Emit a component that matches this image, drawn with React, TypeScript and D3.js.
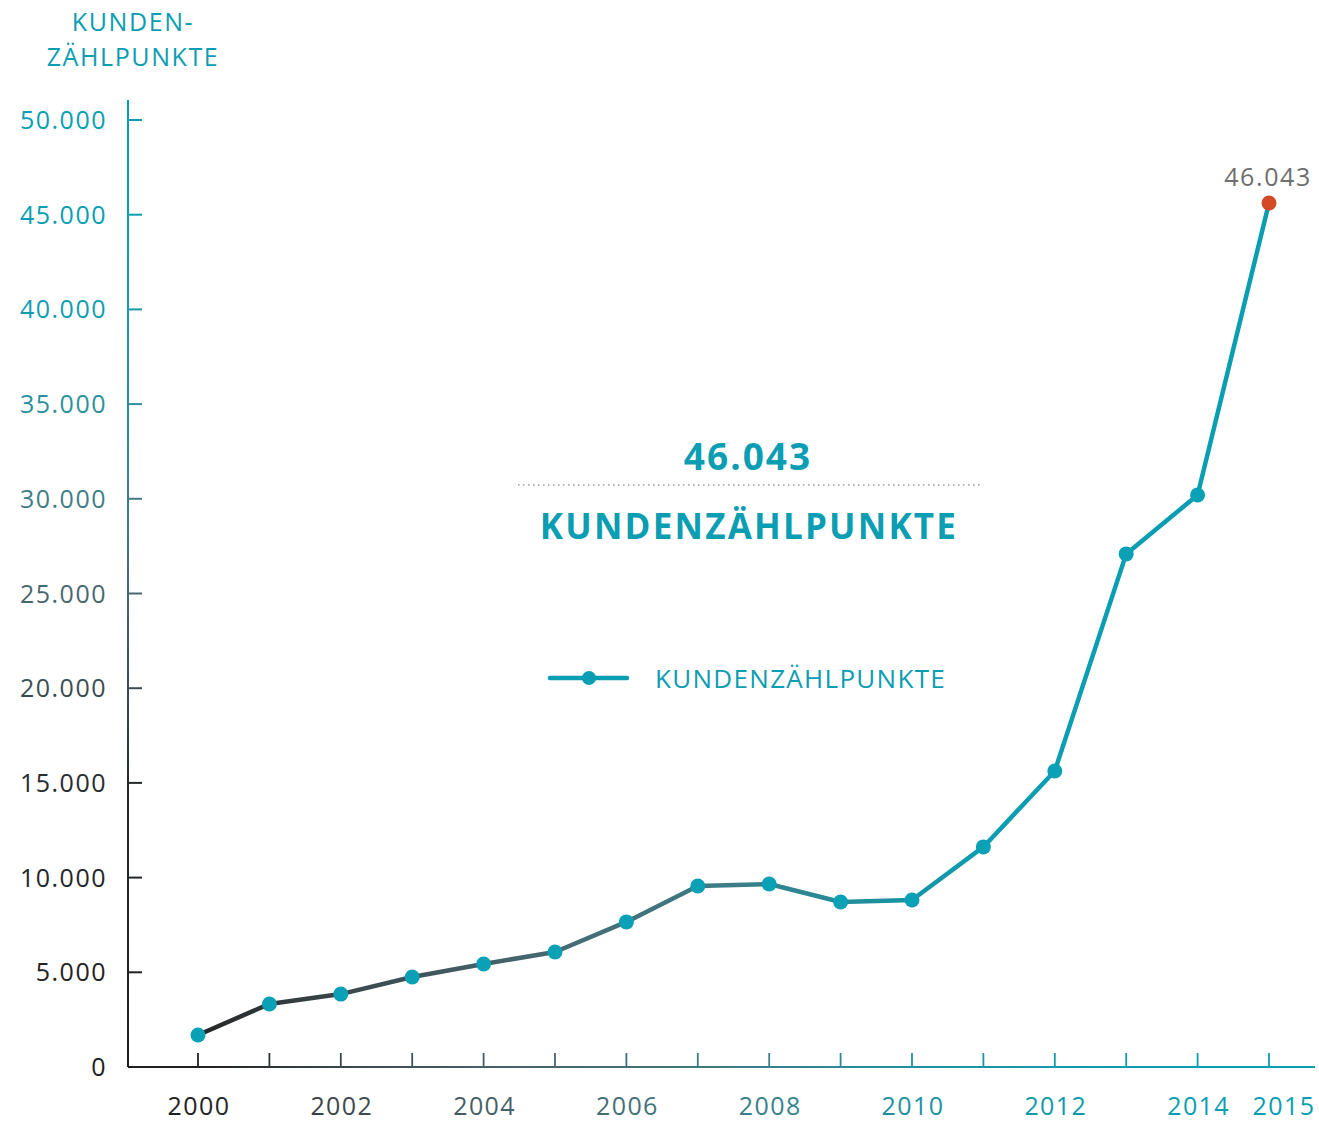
import * as d3 from 'd3'

const years = [2000, 2001, 2002, 2003, 2004, 2005, 2006, 2007, 2008, 2009, 2010, 2011, 2012, 2013, 2014, 2015]
const values = [1690, 3330, 3850, 4750, 5440, 6070, 7660, 9560, 9660, 8710, 8820, 11620, 15630, 27090, 30200, 45620]
const yearLabels = [2000, 2002, 2004, 2006, 2008, 2010, 2012, 2014, 2015]
const yTicks = [0, 5000, 10000, 15000, 20000, 25000, 30000, 35000, 40000, 45000, 50000]
const totalLabel = '46.043'
const seriesName = 'KUNDENZÄHLPUNKTE'
const axisTitle = ['KUNDEN-', 'ZÄHLPUNKTE']

const TEAL = '#0b9db2'
const FONT = '"Open Sans", sans-serif'

const fmt = (v: number) => (v === 0 ? '0' : d3.format(',')(v).replace(/,/g, '.'))

export default function App() {
  const width = 1319
  const height = 1121
  const x = d3.scaleLinear().domain([2000, 2015]).range([198, 1269])
  const y = d3.scaleLinear().domain([0, 50000]).range([1067, 120])
  const axisLeft = 128
  const axisRight = 1315
  const axisTop = 100

  const line = d3.line<number>()
    .x((_, i) => x(years[i]))
    .y(d => y(d))

  const last = values.length - 1

  return (
    <svg width={width} height={height} style={{ display: 'block', position: 'absolute', left: 0, top: 0 }}>
      <defs>
        <linearGradient id="grad-x" gradientUnits="userSpaceOnUse" x1={x(2000)} y1={0} x2={x(2014)} y2={0}>
          <stop offset="0" stopColor="#202020" />
          <stop offset="0.14" stopColor="#3a464b" />
          <stop offset="0.29" stopColor="#465f66" />
          <stop offset="0.43" stopColor="#436f78" />
          <stop offset="0.57" stopColor="#37808b" />
          <stop offset="0.71" stopColor="#1f919f" />
          <stop offset="0.86" stopColor="#1199ac" />
          <stop offset="1" stopColor={TEAL} />
        </linearGradient>
        <linearGradient id="grad-line" gradientUnits="userSpaceOnUse" x1={x(2000)} y1={0} x2={x(2011)} y2={0}>
          <stop offset="0" stopColor="#262626" />
          <stop offset="0.2" stopColor="#3c4a4f" />
          <stop offset="0.45" stopColor="#466a72" />
          <stop offset="0.7" stopColor="#3a7f89" />
          <stop offset="0.85" stopColor="#1e8f9e" />
          <stop offset="1" stopColor={TEAL} />
        </linearGradient>
        <linearGradient id="grad-y" gradientUnits="userSpaceOnUse" x1={0} y1={y(0)} x2={0} y2={y(45000)}>
          <stop offset="0" stopColor="#1e1e1e" />
          <stop offset="0.33" stopColor="#252a2c" />
          <stop offset="0.44" stopColor="#3b4a50" />
          <stop offset="0.56" stopColor="#486870" />
          <stop offset="0.67" stopColor="#3f7d88" />
          <stop offset="0.78" stopColor="#2a8f9d" />
          <stop offset="0.89" stopColor="#139bb0" />
          <stop offset="1" stopColor={TEAL} />
        </linearGradient>
      </defs>

      {/* axis title */}
      <g fill={TEAL} fontFamily={FONT} fontSize={25} textAnchor="middle" letterSpacing={1.6}>
        {axisTitle.map((t, i) => (
          <text key={t} x={133} y={31 + i * 35}>{t}</text>
        ))}
      </g>

      {/* y axis */}
      <line x1={axisLeft} x2={axisLeft} y1={axisTop} y2={y(0)} stroke="url(#grad-y)" strokeWidth={2} />
      {yTicks.map(t => (
        <g key={t}>
          <line x1={axisLeft} x2={axisLeft + 14} y1={y(t)} y2={y(t)} stroke="url(#grad-y)" strokeWidth={2} />
          <text
            x={107}
            y={y(t)}
            dy="0.36em"
            textAnchor="end"
            fill="url(#grad-y)"
            fontFamily={FONT}
            fontSize={25}
            letterSpacing={1.5}
          >
            {fmt(t)}
          </text>
        </g>
      ))}

      {/* x axis */}
      <line x1={axisLeft} x2={axisRight} y1={y(0)} y2={y(0)} stroke="url(#grad-x)" strokeWidth={2} />
      {years.map(yr => (
        <line key={yr} x1={x(yr)} x2={x(yr)} y1={y(0)} y2={y(0) - 14} stroke="url(#grad-x)" strokeWidth={1.8} />
      ))}
      {yearLabels.map((yr, i) => (
        <text
          key={yr}
          x={x(yr) + (i === yearLabels.length - 1 ? 15 : 1)}
          y={1115}
          textAnchor="middle"
          fill="url(#grad-x)"
          fontFamily={FONT}
          fontSize={25}
          letterSpacing={1.4}
        >
          {yr}
        </text>
      ))}

      {/* headline */}
      <text x={748} y={470} textAnchor="middle" fill={TEAL} fontFamily={FONT} fontWeight={700} fontSize={37} letterSpacing={2}>
        {totalLabel}
      </text>
      <line x1={518} x2={981} y1={485} y2={485} stroke="#9a9a9a" strokeWidth={1.5} strokeDasharray="1.5 3.5" />
      <text x={749} y={539} textAnchor="middle" fill={TEAL} fontFamily={FONT} fontWeight={700} fontSize={35} letterSpacing={2.2}>
        {seriesName}
      </text>

      {/* legend */}
      <line x1={550} x2={627} y1={678} y2={678} stroke={TEAL} strokeWidth={4.5} strokeLinecap="round" />
      <circle cx={589} cy={678} r={7} fill={TEAL} />
      <text x={655} y={688} fill={TEAL} fontFamily={FONT} fontSize={26} letterSpacing={1.3}>
        {seriesName}
      </text>

      {/* series */}
      <path d={line(values) ?? ''} fill="none" stroke="url(#grad-line)" strokeWidth={4.5} strokeLinejoin="round" strokeLinecap="round" />
      {values.map((v, i) => (
        <circle key={years[i]} cx={x(years[i])} cy={y(v)} r={7.5} fill={i === last ? '#d44a26' : '#0aa0b5'} />
      ))}
      <text
        x={1268}
        y={y(values[last]) - 17}
        textAnchor="middle"
        fill="#6e6e6e"
        fontFamily={FONT}
        fontSize={25}
        letterSpacing={1.6}
      >
        {totalLabel}
      </text>
    </svg>
  )
}
